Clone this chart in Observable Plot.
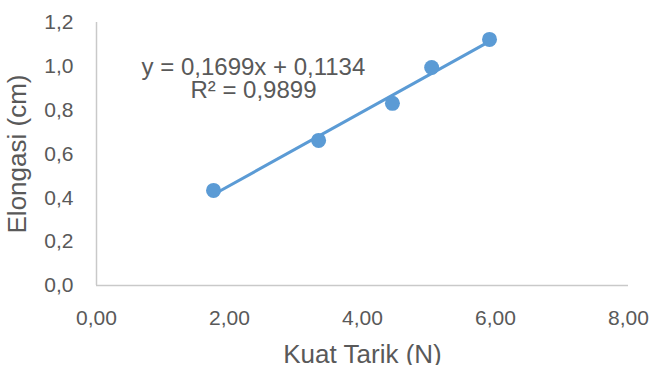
<!DOCTYPE html>
<html><head><meta charset="utf-8">
<script src="https://cdn.jsdelivr.net/npm/d3@7"></script>
<script src="https://cdn.jsdelivr.net/npm/@observablehq/plot@0.6"></script>
<style>body{margin:0;background:#fff;font-family:"Liberation Sans",Arial,sans-serif}</style>
</head><body><div id="chart"></div>
<script>
const kuatTarik = [1.76, 3.34, 4.45, 5.04, 5.91];
const elongasi = [0.434, 0.662, 0.831, 0.995, 1.123];
const xTicks = [0, 2, 4, 6, 8];
const yTicks = [0, 0.2, 0.4, 0.6, 0.8, 1.0, 1.2];
const eqLines = ["y = 0,1699x + 0,1134", "R² = 0,9899"];
const data = kuatTarik.map((x, i) => ({x, y: elongasi[i]}));
const comma = (d, n) => d.toFixed(n).replace(".", ",");
const gray = "#595959", axisGray = "#c9c9c9", blue = "#5B9BD5";
const chart = Plot.plot({
  width: 649, height: 365,
  marginLeft: 96, marginRight: 21, marginTop: 22, marginBottom: 80,
  style: {fontFamily: '"Liberation Sans", Arial, sans-serif', color: gray, background: "#fff"},
  x: {domain: [0, 8]},
  y: {domain: [0, 1.2]},
  marks: [
    Plot.axisX({ticks: xTicks, tickFormat: d => comma(d, 2), tickSize: 0, tickPadding: 25, fill: gray,
      label: "Kuat Tarik (N)", labelAnchor: "center", labelArrow: "none", labelOffset: 77}),
    Plot.axisY({ticks: yTicks, tickFormat: d => comma(d, 1), tickSize: 0, tickPadding: 23, fill: gray,
      label: "Elongasi (cm)", labelAnchor: "center", labelArrow: "none", labelOffset: 89}),
    Plot.ruleX([0], {stroke: axisGray, strokeWidth: 1.5}),
    Plot.ruleY([0], {stroke: axisGray, strokeWidth: 1.5}),
    Plot.linearRegressionY(data, {x: "x", y: "y", ci: 0, stroke: blue, strokeWidth: 3}),
    Plot.dot(data, {x: "x", y: "y", r: 7.5, fill: blue, stroke: "none"}),
    Plot.text(eqLines, {x: [2.36, 2.36], y: [0.997, 0.889], text: d => d, fontSize: 24, fill: gray, textAnchor: "middle"})
  ]
});
document.getElementById("chart").appendChild(chart);
const svg = d3.select(chart);
svg.selectAll("[aria-label='x-axis tick label'], [aria-label='y-axis tick label']").attr("font-size", 21).selectAll("text").style("font-size", "21px");
svg.selectAll("[aria-label='x-axis label'], [aria-label='y-axis label']").attr("font-size", 26).selectAll("text").style("font-size", "26px");
</script></body></html>
